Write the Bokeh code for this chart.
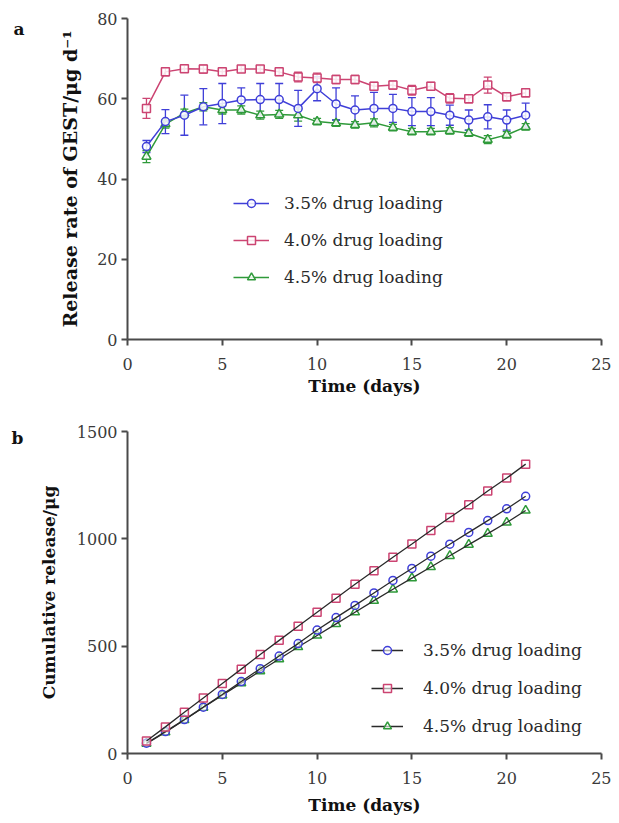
from bokeh.plotting import figure
from bokeh.layouts import column
from bokeh.models import Whisker, TeeHead, ColumnDataSource, Legend, Range1d, FixedTicker
from bokeh.embed import file_html
from bokeh.resources import INLINE

days = list(range(1, 22))

rate_35 = [48.1, 54.3, 55.9, 58.0, 58.8, 59.7, 59.8, 59.8, 57.6, 62.5, 58.7,
           57.2, 57.6, 57.6, 56.8, 56.8, 55.9, 54.7, 55.5, 54.7, 55.9]
err_35 = [1.5, 3.0, 5.0, 4.5, 5.0, 3.0, 4.0, 4.0, 4.5, 3.0, 4.0,
          3.5, 4.0, 3.5, 3.5, 3.5, 2.5, 2.5, 3.0, 2.5, 3.0]
rate_40 = [57.6, 66.7, 67.5, 67.4, 66.7, 67.4, 67.4, 66.7, 65.4, 65.2, 64.8,
           64.8, 63.1, 63.4, 62.1, 63.1, 60.1, 60.0, 63.4, 60.5, 61.5]
err_40 = [2.5, 1.0, 0.8, 1.0, 0.8, 0.8, 0.8, 0.8, 1.2, 1.2, 1.0,
          1.0, 1.0, 1.0, 1.2, 1.0, 1.2, 1.0, 2.0, 1.0, 1.0]
rate_45 = [45.6, 53.7, 56.4, 58.0, 57.2, 57.2, 55.9, 56.1, 55.9, 54.3, 53.9,
           53.5, 54.0, 52.8, 51.8, 51.8, 52.0, 51.4, 49.8, 51.0, 53.0]
err_45 = [1.5, 1.0, 1.0, 1.0, 1.0, 1.0, 1.0, 1.0, 1.5, 0.8, 0.8,
          0.8, 1.0, 0.8, 0.8, 0.8, 0.8, 0.8, 1.0, 0.8, 0.8]

cum_35 = [48, 102, 158, 216, 275, 335, 395, 454, 512, 575, 633,
          690, 748, 806, 862, 919, 975, 1030, 1085, 1140, 1198]
cum_40 = [58, 124, 192, 259, 326, 393, 461, 527, 593, 658, 723,
          788, 851, 914, 976, 1039, 1099, 1159, 1223, 1283, 1348]
cum_45 = [46, 99, 156, 214, 271, 328, 384, 440, 496, 550, 604,
          658, 712, 765, 817, 869, 921, 973, 1024, 1076, 1132]

labels = ["3.5% drug loading", "4.0% drug loading", "4.5% drug loading"]
x_ticks = [0, 5, 10, 15, 20, 25]
y1_ticks = [0, 20, 40, 60, 80]
y2_ticks = [0, 500, 1000, 1500]

BLUE = "#3f3fd8"
PINK = "#cc4472"
GREEN = "#2f9a3a"
AX = "#4a4a4a"
FONT = "DejaVu Serif"


def style(p, xlabel, ylabel, yticks, ylabel_size, ylabel_standoff, xtick_standoff,
          xlabel_standoff, panel, title_offset, title_standoff):
    p.xgrid.visible = False
    p.ygrid.visible = False
    p.outline_line_color = None
    p.background_fill_color = "white"
    p.border_fill_color = "white"
    p.xaxis.ticker = FixedTicker(ticks=x_ticks)
    p.yaxis.ticker = FixedTicker(ticks=yticks)
    for ax in (p.xaxis[0], p.yaxis[0]):
        ax.axis_line_color = AX
        ax.axis_line_width = 2
        ax.major_tick_line_color = AX
        ax.major_tick_line_width = 2
        ax.major_tick_in = 0
        ax.major_tick_out = 6
        ax.minor_tick_line_color = None
        ax.major_label_text_font = FONT
        ax.major_label_text_font_size = "16px"
        ax.major_label_text_color = "#3a3a3a"
        ax.axis_label_text_font = FONT
        ax.axis_label_text_font_style = "bold"
        ax.axis_label_text_font_size = "17px"
        ax.axis_label_text_color = "#111111"
    p.yaxis.axis_label_text_font_size = ylabel_size
    p.xaxis.axis_label = xlabel
    p.yaxis.axis_label = ylabel
    p.xaxis.major_label_standoff = xtick_standoff
    p.xaxis.axis_label_standoff = xlabel_standoff
    p.yaxis.major_label_standoff = 4
    p.yaxis.axis_label_standoff = ylabel_standoff
    p.title.text = panel
    p.title.align = "left"
    p.title.offset = title_offset
    p.title.standoff = title_standoff
    p.title.text_font = FONT
    p.title.text_font_style = "bold"
    p.title.text_font_size = "17px"
    p.title.text_color = "#111111"


# ---------- panel a ----------
p1 = figure(width=611, height=404, output_backend="svg", toolbar_location=None,
            x_range=Range1d(0, 25), y_range=Range1d(0, 80),
            min_border_left=125, min_border_right=10, min_border_top=18, min_border_bottom=65)
style(p1, "Time (days)", "Release rate of GEST/\u03bcg d\u207b\u00b9", y1_ticks, "19px", 13,
      12, 3, "a", -114, -40)

series_a = [
    (rate_40, err_40, PINK, "square", 8),
    (rate_45, err_45, GREEN, "triangle", 9),
    (rate_35, err_35, BLUE, "circle", 8),
]
items_a = {}
for vals, errs, col, mk, sz in series_a:
    src = ColumnDataSource(dict(x=days, y=vals,
                                lo=[v - e for v, e in zip(vals, errs)],
                                hi=[v + e for v, e in zip(vals, errs)]))
    w = Whisker(source=src, base="x", upper="hi", lower="lo", line_color=col, line_width=1.3,
                upper_head=TeeHead(size=8, line_color=col, line_width=1.3),
                lower_head=TeeHead(size=8, line_color=col, line_width=1.3))
    p1.add_layout(w)
    ln = p1.line("x", "y", source=src, line_color=col, line_width=1.5)
    sc = p1.scatter("x", "y", source=src, marker=mk, size=sz, line_color=col, line_width=1.5,
                    fill_color="white", fill_alpha=0.85)
    items_a[col] = [ln, sc]

leg1 = Legend(items=[(labels[0], items_a[BLUE]), (labels[1], items_a[PINK]), (labels[2], items_a[GREEN])],
              location=(106, 52), background_fill_alpha=0, border_line_color=None,
              label_text_font=FONT, label_text_font_size="17px", label_text_color="#2a2a2a",
              glyph_width=36, glyph_height=20, label_height=20, spacing=17, label_standoff=15,
              padding=5, margin=0)
p1.add_layout(leg1, "center")

# ---------- panel b ----------
p2 = figure(width=611, height=415, output_backend="svg", toolbar_location=None,
            x_range=Range1d(0, 25), y_range=Range1d(0, 1500),
            min_border_left=127, min_border_right=6, min_border_top=27, min_border_bottom=66)
style(p2, "Time (days)", "Cumulative release/\u03bcg", y2_ticks, "17px", 15,
      12, 8, "b", -116, -32)

series_b = [
    (cum_45, GREEN, "triangle", 9),
    (cum_35, BLUE, "circle", 8),
    (cum_40, PINK, "square", 8),
]
items_b = {}
for vals, col, mk, sz in series_b:
    src = ColumnDataSource(dict(x=days, y=vals))
    sc = p2.scatter("x", "y", source=src, marker=mk, size=sz, line_color=col, line_width=1.5,
                    fill_color="white", fill_alpha=0.6)
    ln = p2.line("x", "y", source=src, line_color="#2a2a2a", line_width=1.3)
    items_b[col] = [ln, sc]

leg2 = Legend(items=[(labels[0], items_b[BLUE]), (labels[1], items_b[PINK]), (labels[2], items_b[GREEN])],
              location=(244, 17), background_fill_alpha=0, border_line_color=None,
              label_text_font=FONT, label_text_font_size="17px", label_text_color="#2a2a2a",
              glyph_width=32, glyph_height=20, label_height=20, spacing=18, label_standoff=20,
              padding=5, margin=0)
p2.add_layout(leg2, "center")

layout = column(p1, p2, spacing=0)
open("out.html", "w").write(file_html(layout, INLINE))
